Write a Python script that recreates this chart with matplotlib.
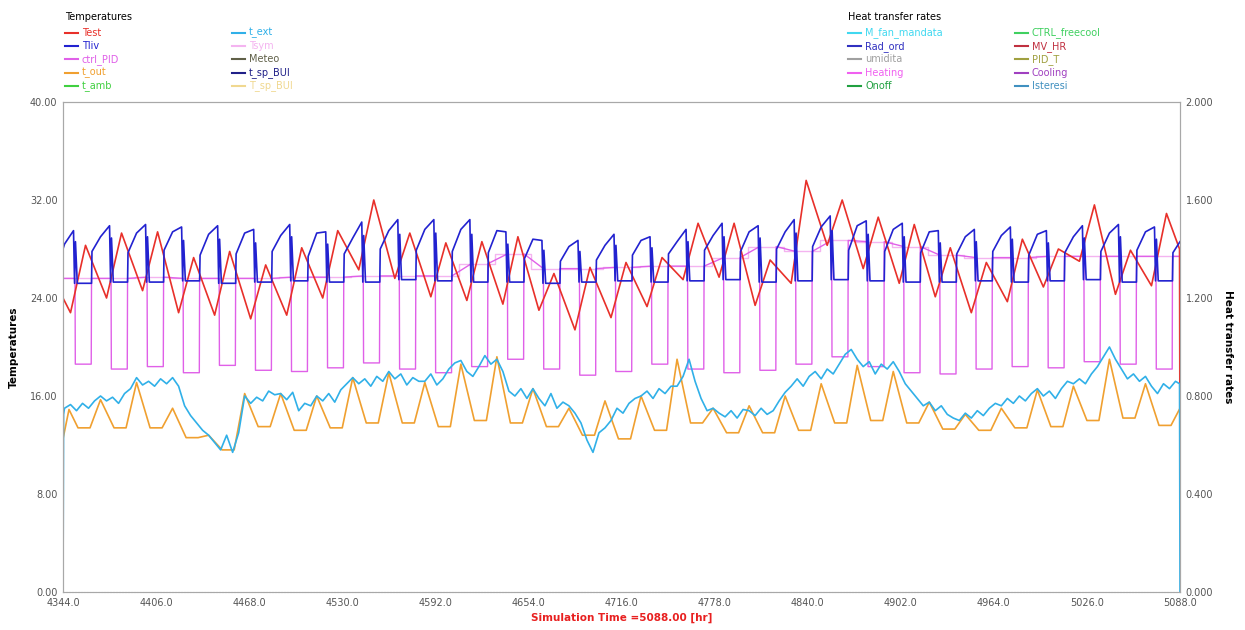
import matplotlib
matplotlib.use("Agg")
from matplotlib import pyplot as plt
from matplotlib.lines import Line2D

# time axis: simulation hours, one day = 24 h
t_start = 4344
t_end = 5088
n_days = 31

# Test (red): daily minimum around h5, maximum around h15
test_min = [22.8, 24.0, 24.6, 22.8, 22.6, 22.3, 22.6, 24.0, 26.3, 25.6, 24.1, 23.8, 23.5, 23.0, 21.4, 22.4,
            23.3, 25.5, 25.7, 23.4, 25.2, 28.3, 26.4, 25.2, 24.1, 22.8, 23.7, 24.9, 27.0, 24.3, 25.0]
test_max = [28.3, 29.3, 29.4, 27.3, 27.8, 26.7, 28.1, 29.5, 32.0, 29.3, 28.5, 28.6, 29.0, 26.0, 26.5, 26.9,
            27.3, 30.1, 30.1, 27.1, 33.6, 32.0, 30.6, 30.0, 28.1, 26.9, 28.8, 28.0, 31.6, 27.9, 30.9]
test_first, test_last, test_drop = 24.0, 28.0, 10.0

# Tliv (blue): low plateau, jump at h19, rising curve, peak at h7 of next day
tliv_low = [25.2, 25.3, 25.3, 25.4, 25.2, 25.3, 25.4, 25.3, 25.3, 25.5, 25.4, 25.3, 25.3, 25.2, 25.3, 25.4,
            25.3, 25.4, 25.5, 25.3, 25.4, 25.5, 25.4, 25.3, 25.3, 25.4, 25.3, 25.4, 25.5, 25.3, 25.4]
tliv_jump = [27.8, 27.7, 27.9, 27.5, 27.6, 27.8, 27.4, 27.6, 28.0, 27.9, 27.8, 27.7, 27.2, 27.0, 27.1, 27.5,
             27.6, 27.9, 27.8, 28.0, 28.2, 27.9, 27.8, 27.7, 27.6, 27.8, 27.5, 27.7, 27.8, 27.9, 27.7]
tliv_mid = [28.4, 29.0, 29.3, 29.4, 29.2, 29.3, 29.1, 29.3, 28.9, 29.5, 29.6, 29.6, 29.5, 28.8, 28.2, 28.3,
            28.7, 28.6, 29.1, 29.4, 29.4, 29.8, 29.9, 29.6, 29.4, 29.0, 29.1, 29.2, 29.0, 29.3, 29.4]
tliv_peak = [29.5, 29.9, 30.0, 29.8, 29.9, 29.6, 30.0, 29.4, 30.2, 30.4, 30.4, 30.4, 29.4, 28.7, 28.7, 29.2,
             29.0, 29.6, 30.1, 29.9, 30.4, 30.7, 30.3, 30.1, 29.5, 29.6, 29.8, 29.5, 29.9, 30.0, 29.8]
tliv_kick = [28.6, 28.9, 29.0, 28.7, 28.8, 28.5, 29.0, 28.4, 29.1, 29.2, 29.3, 29.2, 28.4, 27.9, 27.8, 28.3,
             28.1, 28.6, 29.0, 28.9, 29.3, 29.5, 29.2, 29.0, 28.5, 28.6, 28.8, 28.5, 28.9, 29.0, 28.8]
tliv_first, tliv_last = 28.0, 28.6

# ctrl_PID (violet): setpoint level, deep dip between h8 and h19
pid_bottom = [18.6, 18.2, 18.4, 17.9, 18.5, 18.1, 18.0, 18.3, 18.7, 18.2, 17.9, 18.4, 19.0, 18.2, 17.7, 18.0,
              18.6, 18.2, 17.9, 18.1, 18.6, 19.2, 18.4, 17.9, 17.8, 18.2, 18.4, 18.3, 18.8, 18.6, 18.2]
# Tsym (light pink): daily setpoint level
tsym_level = [25.6, 25.6, 25.7, 25.6, 25.6, 25.6, 25.7, 25.7, 25.8, 25.8, 25.8, 26.8, 27.6, 26.4, 26.4, 26.5,
              26.6, 26.6, 27.3, 28.2, 27.8, 28.7, 28.6, 28.2, 27.5, 27.3, 27.3, 27.4, 27.4, 27.4, 27.4]

# t_out (orange): peak around h1, low plateau h10-h18
tout_peak = [14.9, 15.7, 17.1, 15.0, 12.8, 16.2, 16.2, 16.0, 17.5, 17.9, 17.1, 18.6, 19.2, 16.6, 15.0, 15.6,
             16.0, 19.0, 15.0, 15.2, 16.0, 17.0, 18.5, 18.0, 15.5, 14.5, 15.0, 16.5, 16.8, 19.0, 17.0]
tout_low = [13.4, 13.4, 13.4, 12.6, 11.6, 13.5, 13.2, 13.4, 13.8, 13.8, 13.5, 14.0, 13.8, 13.5, 12.8, 12.5,
            13.2, 13.8, 13.0, 13.0, 13.2, 13.8, 14.0, 13.8, 13.3, 13.2, 13.4, 13.5, 14.0, 14.2, 13.6]
tout_first, tout_last = 12.5, 15.0

# t_ext (cyan): values at h1, h5, h9, h13, h17, h21 of each day
text_day = [
    [15.0, 15.3, 14.8, 15.4, 15.0, 15.6], [16.0, 15.6, 15.9, 15.4, 16.2, 16.6],
    [17.5, 16.9, 17.2, 16.8, 17.4, 17.0], [17.5, 16.8, 15.2, 14.4, 13.8, 13.2],
    [12.8, 12.2, 11.6, 12.8, 11.4, 13.0], [16.0, 15.4, 15.9, 15.6, 16.4, 16.1],
    [16.2, 15.7, 16.3, 14.8, 15.4, 15.2], [16.0, 15.6, 16.2, 15.5, 16.5, 17.0],
    [17.5, 17.0, 17.4, 16.8, 17.6, 17.2], [18.0, 17.4, 17.8, 16.9, 17.5, 17.2],
    [17.2, 17.8, 16.9, 17.4, 18.2, 18.7], [18.9, 18.0, 17.6, 18.4, 19.3, 18.6],
    [19.0, 18.0, 16.4, 16.0, 16.6, 15.8], [16.6, 15.8, 15.2, 16.2, 15.0, 15.5],
    [15.2, 14.6, 13.8, 12.4, 11.4, 13.0], [13.4, 14.0, 15.0, 14.6, 15.4, 15.8],
    [16.0, 16.4, 15.8, 16.6, 16.2, 16.8], [16.8, 17.6, 19.0, 17.2, 15.8, 14.8],
    [15.0, 14.6, 14.3, 14.8, 14.2, 14.9], [14.8, 14.4, 15.0, 14.5, 14.8, 15.6],
    [16.3, 16.8, 17.4, 16.8, 17.6, 18.0], [17.4, 18.2, 17.8, 18.6, 19.4, 19.8],
    [19.0, 18.4, 18.8, 17.8, 18.6, 18.2], [18.8, 18.0, 17.0, 16.4, 15.8, 15.2],
    [15.5, 14.8, 15.2, 14.5, 14.2, 14.0], [14.6, 14.2, 14.8, 14.4, 15.0, 15.4],
    [15.2, 15.8, 15.4, 16.0, 15.6, 16.2], [16.6, 16.0, 16.4, 15.8, 16.6, 17.2],
    [17.0, 17.4, 17.0, 17.8, 18.4, 19.2], [20.0, 19.0, 18.2, 17.4, 17.8, 17.2],
    [17.6, 16.8, 16.2, 17.0, 16.6, 17.2],
]
text_first, text_last = 14.5, 17.0
text_hours = [1, 5, 9, 13, 17, 21]

temp_labels = ["Test", "Tliv", "ctrl_PID", "t_out", "t_amb", "t_ext", "Tsym", "Meteo", "t_sp_BUI", "T_sp_BUI"]
temp_colors = ["#e8302a", "#2222d0", "#e060e8", "#f0a030", "#40d040", "#30b0e8", "#f4b4f0", "#606048",
               "#202088", "#f0d890"]
heat_labels = ["M_fan_mandata", "Rad_ord", "umidita", "Heating", "Onoff",
               "CTRL_freecool", "MV_HR", "PID_T", "Cooling", "Isteresi"]
heat_colors = ["#40d8f0", "#3030c0", "#a0a0a0", "#f060f0", "#20a040",
               "#40d060", "#c03040", "#a0a040", "#a040c0", "#4090c0"]

x_ticks = [4344, 4406, 4468, 4530, 4592, 4654, 4716, 4778, 4840, 4902, 4964, 5026, 5088]

# assemble polylines from the daily values
def day0(d):
    return t_start + 24 * d

test_t, test_v = [t_start], [test_first]
for d in range(n_days):
    test_t += [day0(d) + 5, day0(d) + 15]
    test_v += [test_min[d], test_max[d]]
test_t += [t_end - 0.3, t_end]; test_v += [test_last, test_drop]

tliv_t, tliv_v = [t_start], [tliv_first]
for d in range(n_days):
    b = day0(d)
    tliv_t += [b + 1, b + 7, b + 7.7, b + 8.3, b + 9.5, b + 19, b + 19.3]
    tliv_v += [tliv_mid[d], tliv_peak[d], tliv_low[d], tliv_kick[d], tliv_low[d], tliv_low[d], tliv_jump[d]]
tliv_t.append(t_end); tliv_v.append(tliv_last)

pid_t, pid_v = [t_start], [tsym_level[0]]
for d in range(n_days):
    b = day0(d)
    pid_t += [b + 8, b + 8.2, b + 18.8, b + 19]
    pid_v += [tsym_level[d], pid_bottom[d], pid_bottom[d], tsym_level[d]]
pid_t.append(t_end); pid_v.append(tsym_level[-1])

tsym_t, tsym_v = [], []
for d in range(n_days):
    tsym_t += [day0(d), day0(d) + 24]
    tsym_v += [tsym_level[d], tsym_level[d]]

tout_t, tout_v = [t_start, t_start + 4], [tout_first, tout_peak[0]]
for d in range(n_days):
    b = day0(d)
    if d > 0:
        tout_t.append(b + 1); tout_v.append(tout_peak[d])
    tout_t += [b + 10, b + 18]
    tout_v += [tout_low[d], tout_low[d]]
tout_t.append(t_end); tout_v.append(tout_last)

text_t, text_v = [t_start, t_start + 0.4], [0.0, text_first]
for d in range(n_days):
    for h, v in zip(text_hours, text_day[d]):
        text_t.append(day0(d) + h)
        text_v.append(v)
text_t += [t_end - 0.3, t_end]; text_v += [text_last, 0.0]

W, H = 1245, 630
fig = plt.figure(figsize=(W / 100, H / 100), dpi=100)
ax = fig.add_axes([63 / W, 1 - 592 / H, (1180 - 63) / W, (592 - 102) / H])
ax2 = ax.twinx()

ax.plot(tsym_t, tsym_v, color=temp_colors[6], lw=1.0)
ax.plot(pid_t, pid_v, color=temp_colors[2], lw=1.0)
ax.plot(test_t, test_v, color=temp_colors[0], lw=1.2)
ax.plot(tout_t, tout_v, color=temp_colors[3], lw=1.2)
ax.plot(text_t, text_v, color=temp_colors[5], lw=1.2)
ax.plot(tliv_t, tliv_v, color=temp_colors[1], lw=1.2)

ax.set_xlim(t_start, t_end)
ax.set_ylim(0, 40)
ax2.set_ylim(0, 2)
ax.set_xticks(x_ticks)
ax.set_xticklabels([f"{v:.1f}" for v in x_ticks])
ax.set_yticks(range(0, 41, 8))
ax.set_yticklabels([f"{v:.2f}" for v in range(0, 41, 8)])
ax2.set_yticks([0, 0.4, 0.8, 1.2, 1.6, 2.0])
ax2.set_yticklabels([f"{v:.3f}" for v in [0, 0.4, 0.8, 1.2, 1.6, 2.0]])

for a in (ax, ax2):
    a.tick_params(labelsize=7, colors="#555555", length=0, pad=4)
    for s in a.spines.values():
        s.set_color("#a8a8a8")
ax.spines["bottom"].set_linestyle(":")

ax.set_ylabel("Temperatures", fontsize=7.5, fontweight="bold", labelpad=8)
ax2.set_ylabel("Heat transfer rates", fontsize=7.5, fontweight="bold", rotation=270, labelpad=14)
ax.set_xlabel("Simulation Time =5088.00 [hr]", fontsize=7.5, fontweight="bold", color="#e82020", labelpad=4)

# legends drawn in pixel coordinates
def legend_block(title, x0, x1, labels, colors):
    fig.text(x0 / W, 1 - 17 / H, title, fontsize=7, va="center", ha="left")
    for i, (lab, col) in enumerate(zip(labels, colors)):
        x = x0 if i < 5 else x1
        y = 1 - (33 + 13.2 * (i % 5)) / H
        fig.add_artist(Line2D([x / W, (x + 13) / W], [y, y], color=col, lw=1.5, transform=fig.transFigure))
        fig.text((x + 17) / W, y, lab, fontsize=7, color=col, va="center", ha="left")

legend_block("Temperatures", 65, 232, temp_labels, temp_colors)
legend_block("Heat transfer rates", 848, 1015, heat_labels, heat_colors)

fig.savefig("out.png", dpi=100)
